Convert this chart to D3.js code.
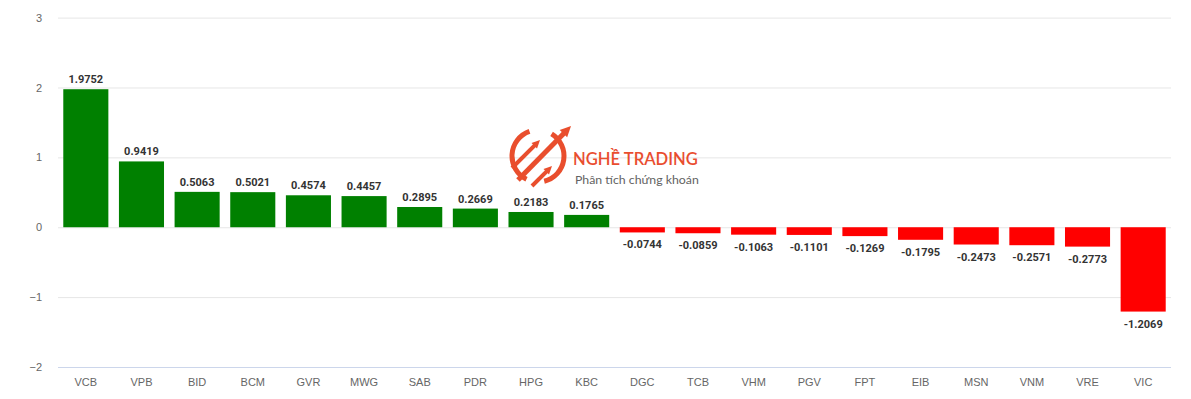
<!DOCTYPE html>
<html>
<head>
<meta charset="utf-8">
<script src="https://cdn.jsdelivr.net/npm/d3@7"></script>
<style>
  html, body { margin: 0; padding: 0; background: #fff; }
  svg { display: block; font-family: "Open Sans", Arial, sans-serif; }
</style>
</head>
<body>
<div id="chart"></div>
<script>
// Contribution per ticker: positive in green, negative in red, value label at bar end.
const tickers = ["VCB", "VPB", "BID", "BCM", "GVR", "MWG", "SAB", "PDR", "HPG", "KBC",
  "DGC", "TCB", "VHM", "PGV", "FPT", "EIB", "MSN", "VNM", "VRE", "VIC"];
const values = [1.9752, 0.9419, 0.5063, 0.5021, 0.4574, 0.4457, 0.2895, 0.2669, 0.2183, 0.1765,
  -0.0744, -0.0859, -0.1063, -0.1101, -0.1269, -0.1795, -0.2473, -0.2571, -0.2773, -1.2069];
const yTicks = [-2, -1, 0, 1, 2, 3];

const w = 1191, h = 399;
const margin = { top: 17.6, right: 20, bottom: 32, left: 58 };

const x = d3.scaleBand()
  .domain(tickers)
  .range([margin.left, w - margin.right])
  .paddingInner(0.19)
  .paddingOuter(0.095);
const y = d3.scaleLinear()
  .domain([-2, 3])
  .range([h - margin.bottom, margin.top]);

const svg = d3.select("#chart").append("svg")
  .attr("width", w).attr("height", h).attr("viewBox", `0 0 ${w} ${h}`);

// grid + y labels
svg.append("g")
  .attr("transform", `translate(${margin.left},0)`)
  .call(d3.axisLeft(y).tickValues(yTicks).tickFormat(d3.format("d"))
    .tickSize(-(w - margin.left - margin.right)).tickPadding(16))
  .call(g => g.select(".domain").remove())
  .call(g => g.selectAll(".tick line").attr("stroke", d => d === -2 ? "#ccd6eb" : "#e6e6e6"))
  .call(g => g.selectAll(".tick text").attr("fill", "#666").attr("font-size", 11));

// x labels
svg.append("g")
  .attr("transform", `translate(0,${y(-2)})`)
  .call(d3.axisBottom(x).tickSize(0).tickPadding(11))
  .call(g => g.select(".domain").remove())
  .call(g => g.selectAll(".tick text").attr("fill", "#666").attr("font-size", 11));

// watermark logo
const wm = svg.append("g").attr("opacity", 0.92);
const lc = "#e8401c";
const cx = 538, cy = 156, r = 26;
const arc = d3.arc().innerRadius(r - 2.5).outerRadius(r + 2.5);
wm.append("path").attr("transform", `translate(${cx},${cy})`)
  .attr("d", arc({ startAngle: 0.55, endAngle: 2.9 })).attr("fill", lc);
wm.append("path").attr("transform", `translate(${cx},${cy})`)
  .attr("d", arc({ startAngle: 3.6, endAngle: 5.95 })).attr("fill", lc);
const arrow = (x1, y1, x2, y2, sw, hs) => {
  const a = Math.atan2(y2 - y1, x2 - x1);
  wm.append("line").attr("x1", x1).attr("y1", y1)
    .attr("x2", x2 - Math.cos(a) * hs * 0.6).attr("y2", y2 - Math.sin(a) * hs * 0.6)
    .attr("stroke", lc).attr("stroke-width", sw);
  const p = [[x2, y2],
    [x2 - Math.cos(a - 0.45) * hs, y2 - Math.sin(a - 0.45) * hs],
    [x2 - Math.cos(a + 0.45) * hs, y2 - Math.sin(a + 0.45) * hs]];
  wm.append("path").attr("d", "M" + p.join("L") + "Z").attr("fill", lc);
};
arrow(518, 180, 571, 126, 5, 12);
arrow(512, 168, 540, 140, 4, 9);
arrow(532, 186, 552, 166, 4, 9);
wm.append("text").attr("x", 573).attr("y", 165)
  .attr("fill", lc).attr("font-size", 16.6).attr("font-family", "Lato, 'Open Sans', sans-serif")
  .attr("font-weight", 600).text("NGHỀ TRADING");
wm.append("text").attr("x", 575).attr("y", 184)
  .attr("fill", "#555").attr("font-size", 12.3).attr("font-family", "Lato, 'Open Sans', sans-serif")
  .text("Phân tích chứng khoán");

// bars
const data = tickers.map((t, i) => ({ t, v: values[i] }));
svg.append("g").selectAll("rect")
  .data(data)
  .join("rect")
  .attr("x", d => x(d.t))
  .attr("width", x.bandwidth())
  .attr("y", d => y(Math.max(0, d.v)))
  .attr("height", d => Math.abs(y(d.v) - y(0)))
  .attr("fill", d => d.v >= 0 ? "#008000" : "#ff0000");

// value labels
svg.append("g").selectAll("text")
  .data(data)
  .join("text")
  .attr("x", d => x(d.t) + x.bandwidth() / 2)
  .attr("y", d => d.v >= 0 ? y(d.v) - 6 : y(d.v) + 16)
  .attr("text-anchor", "middle")
  .attr("font-family", "Roboto, sans-serif")
  .attr("font-size", 11)
  .attr("font-weight", "bold")
  .attr("fill", "#333")
  .attr("stroke", "#fff").attr("stroke-width", 2).attr("paint-order", "stroke")
  .text(d => d.v.toFixed(4));
</script>
</body>
</html>
